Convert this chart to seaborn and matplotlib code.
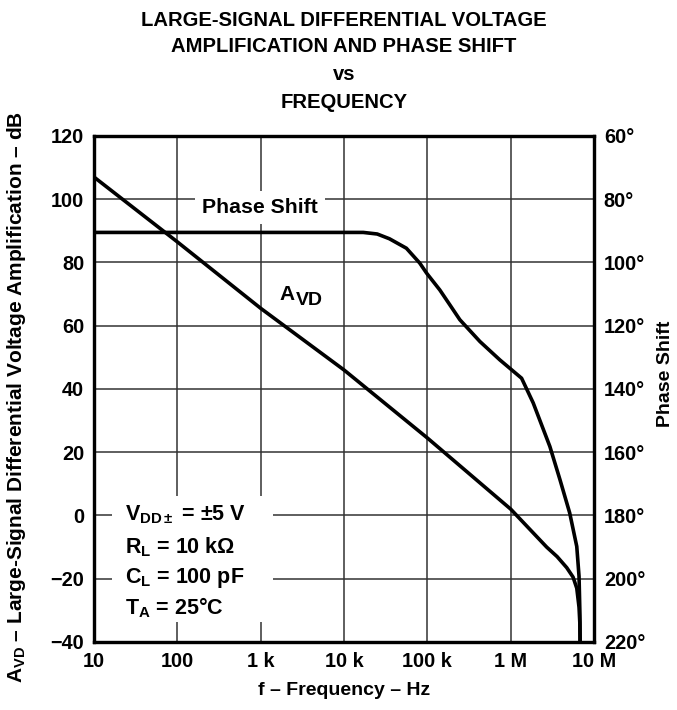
import numpy as np
import pandas as pd
import matplotlib
matplotlib.use("Agg")
import matplotlib.pyplot as plt
from matplotlib.patches import Rectangle
import seaborn as sns

# data
avd_freq = [10, 100, 1e3, 1e4, 1e5, 1e6, 2.7e6, 3.6e6, 4.7e6, 5.6e6, 6.2e6, 6.6e6, 6.75e6, 6.8e6]
avd_db = [107, 86.5, 65.5, 46, 24.5, 2, -10, -13, -16.5, -19.5, -23, -29, -34, -40]

phase_freq = [10, 1.7e4, 2.5e4, 3.5e4, 5.6e4, 8.1e4, 9.8e4, 1.41e5, 1.86e5, 2.45e5,
              4.27e5, 7.4e5, 1.35e6, 1.86e6, 2.95e6, 3.9e6, 5.1e6, 6.2e6, 6.6e6, 6.75e6, 6.8e6]
phase_deg = [90.5, 90.5, 91, 92.5, 95.5, 100.2, 103.4, 108.7, 113.4, 118.1,
             125, 130.8, 136.6, 144.4, 158.2, 168.7, 179.2, 189.8, 199.2, 210, 220]

freq_ticks = [10, 100, 1e3, 1e4, 1e5, 1e6, 1e7]
freq_labels = ["10", "100", "1 k", "10 k", "100 k", "1 M", "10 M"]
db_ticks = list(range(-40, 121, 20))
db_labels = [str(v).replace("-", "\u2212") for v in db_ticks]
deg_ticks = list(range(60, 221, 20))
deg_labels = [f"{v}\u00b0" for v in deg_ticks]

conditions = ["$V_{DD\\pm}$ = \u00b15 V", "$R_L$ = 10 k\u03a9",
              "$C_L$ = 100 pF", "$T_A$ = 25\u00b0C"]

sns.set_theme(style="white")
plt.rcParams["font.family"] = ["Liberation Sans", "DejaVu Sans"]
plt.rcParams["font.weight"] = "bold"
plt.rcParams["text.color"] = "black"
plt.rcParams["axes.labelcolor"] = "black"
plt.rcParams["xtick.color"] = "black"
plt.rcParams["ytick.color"] = "black"
plt.rcParams["mathtext.fontset"] = "custom"
plt.rcParams["mathtext.rm"] = "Liberation Sans:bold"
plt.rcParams["mathtext.it"] = "Liberation Sans:bold"
plt.rcParams["mathtext.bf"] = "Liberation Sans:bold"
plt.rcParams["mathtext.default"] = "rm"

avd = pd.DataFrame({"f": avd_freq, "db": avd_db})
ph = pd.DataFrame({"f": phase_freq, "deg": phase_deg})

fig = plt.figure(figsize=(6.77, 7.10), dpi=100)
ax = fig.add_axes([0.1389, 0.0958, 0.7386, 0.7127])
ax2 = ax.twinx()

sns.lineplot(data=avd, x="f", y="db", ax=ax, color="black", lw=2.6,
             estimator=None, sort=False)
sns.lineplot(data=ph, x="f", y="deg", ax=ax2, color="black", lw=2.6,
             estimator=None, sort=False)

ax.set_xscale("log")
ax.set_xlim(10, 1e7)
ax.set_ylim(-40, 120)
ax2.set_ylim(220, 60)

ax.set_xticks(freq_ticks)
ax.set_xticklabels(freq_labels)
ax.xaxis.set_minor_locator(matplotlib.ticker.NullLocator())
ax.set_yticks(db_ticks)
ax.set_yticklabels(db_labels)
ax2.set_yticks(deg_ticks)
ax2.set_yticklabels(deg_labels)

ax.grid(True, which="major", color="#333333", lw=1.1)
for a in (ax, ax2):
    a.tick_params(length=0, labelsize=14.3, pad=7)
    for s in a.spines.values():
        s.set_linewidth(2.3)
        s.set_color("black")

ax.set_xlabel("f \u2013 Frequency \u2013 Hz", fontsize=14, fontweight="bold")
ax.xaxis.set_label_coords(0.5, -0.08)
ax.set_ylabel("$A_{VD}$ \u2013 Large-Signal Differential Voltage Amplification \u2013 dB",
              fontsize=15, fontweight="bold")
ax.yaxis.set_label_coords(-0.132, 0.485)
ax2.set_ylabel("Phase Shift", fontsize=14, fontweight="bold")
ax2.yaxis.set_label_coords(1.126, 0.53)

ax.text(980, 97.3, "Phase Shift", fontsize=15.3, fontweight="bold", ha="center",
        va="center", zorder=3,
        bbox=dict(facecolor="white", edgecolor="none", pad=5))
# A with a large subscript VD, as in the reference
ax.text(2570, 69.8, "A", fontsize=15, ha="right", va="center", zorder=3)
ax.annotate("VD", xy=(2570, 69.8), xytext=(1, -4), textcoords="offset points",
            fontsize=14, ha="left", va="center", zorder=3)

ax.add_patch(Rectangle((0.036, 0.04), 0.322, 0.249, transform=ax.transAxes,
                       facecolor="white", edgecolor="none", zorder=2))
for txt, yv in zip(conditions, [0.25, -9.9, -19.7, -29.1]):
    ax.text(23.5, yv, txt, fontsize=15.5, fontweight="bold", ha="left",
            va="center", zorder=3)

title_lines = ["LARGE-SIGNAL DIFFERENTIAL VOLTAGE", "AMPLIFICATION AND PHASE SHIFT",
               "vs", "FREQUENCY"]
for line, ypx in zip(title_lines, [20, 47, 75, 103]):
    fig.text(0.508, 1 - ypx / 710, line, fontsize=14.6, fontweight="bold",
             ha="center", va="center")

fig.savefig("out.png", dpi=100)
